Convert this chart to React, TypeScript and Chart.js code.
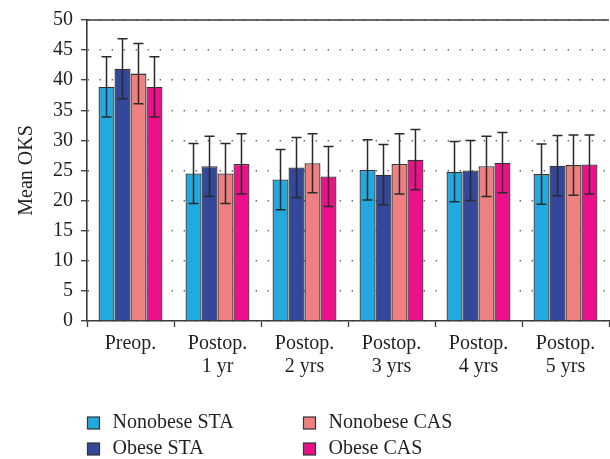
import React, { useEffect, useRef } from "react";
import { Chart, registerables } from "chart.js";

Chart.register(...registerables);

const categories: (string | string[])[] = [
  "Preop.",
  ["Postop.", "1 yr"],
  ["Postop.", "2 yrs"],
  ["Postop.", "3 yrs"],
  ["Postop.", "4 yrs"],
  ["Postop.", "5 yrs"],
];

const seriesNames = ["Nonobese STA", "Obese STA", "Nonobese CAS", "Obese CAS"];
const seriesColors = ["#22A9E0", "#33479B", "#F07F81", "#EC118B"];

const nonobeseSTA = [38.9, 24.5, 23.5, 25.1, 24.8, 24.4];
const obeseSTA = [41.9, 25.7, 25.5, 24.3, 25.0, 25.8];
const nonobeseCAS = [41.1, 24.5, 26.2, 26.1, 25.7, 25.9];
const obeseCAS = [38.9, 26.1, 24.0, 26.8, 26.3, 26.0];

const sdNonobeseSTA = [5.0, 5.0, 5.0, 5.0, 5.0, 5.0];
const sdObeseSTA = [5.0, 5.0, 5.0, 5.0, 5.0, 5.0];
const sdNonobeseCAS = [5.0, 5.0, 4.9, 5.0, 5.0, 5.0];
const sdObeseCAS = [5.0, 5.0, 5.0, 5.0, 5.0, 4.9];

const yTicks = [0, 5, 10, 15, 20, 25, 30, 35, 40, 45, 50];

const seriesValues = [nonobeseSTA, obeseSTA, nonobeseCAS, obeseCAS];
const seriesErrors = [sdNonobeseSTA, sdObeseSTA, sdNonobeseCAS, sdObeseCAS];

const FONT = "'Liberation Serif', 'DejaVu Serif', serif";
const TEXT = "#231f20";
const LINE = "#3a3a3a";

const errorBarPlugin = {
  id: "errorBars",
  afterDatasetsDraw(chart: any) {
    const ctx = chart.ctx;
    const yScale = chart.scales.y;
    ctx.save();
    ctx.strokeStyle = "#2a2a2a";
    ctx.lineWidth = 1.5;
    chart.data.datasets.forEach((ds: any, di: number) => {
      const meta = chart.getDatasetMeta(di);
      const errs = seriesErrors[di];
      meta.data.forEach((el: any, i: number) => {
        const v = ds.data[i];
        const e = errs[i];
        const x = el.x;
        const yt = yScale.getPixelForValue(v + e);
        const yb = yScale.getPixelForValue(v - e);
        const cap = 5;
        ctx.beginPath();
        ctx.moveTo(x, yt);
        ctx.lineTo(x, yb);
        ctx.moveTo(x - cap, yt);
        ctx.lineTo(x + cap, yt);
        ctx.moveTo(x - cap, yb);
        ctx.lineTo(x + cap, yb);
        ctx.stroke();
      });
    });
    ctx.restore();
  },
};

const framePlugin = {
  id: "frameTop",
  afterDraw(chart: any) {
    const { ctx, chartArea } = chart;
    ctx.save();
    ctx.strokeStyle = LINE;
    ctx.lineWidth = 1.6;
    ctx.beginPath();
    ctx.moveTo(chartArea.left, chartArea.top);
    ctx.lineTo(chartArea.right, chartArea.top);
    ctx.stroke();
    ctx.restore();
  },
};

const legendPlugin = {
  id: "customLegend",
  afterDraw(chart: any) {
    const { ctx, chartArea } = chart;
    const order = [
      [0, 0, 0],
      [1, 0, 1],
      [2, 1, 0],
      [3, 1, 1],
    ];
    ctx.save();
    ctx.font = `20px ${FONT}`;
    ctx.textBaseline = "middle";
    ctx.textAlign = "left";
    order.forEach(([si, col, row]) => {
      const x = chartArea.left + 0.5 + col * 216;
      const y = 423 + row * 26;
      ctx.fillStyle = seriesColors[si];
      ctx.fillRect(x, y - 6, 12, 12);
      ctx.strokeStyle = "#333";
      ctx.lineWidth = 1.2;
      ctx.strokeRect(x, y - 6, 12, 12);
      ctx.fillStyle = TEXT;
      ctx.fillText(seriesNames[si], x + 25, y);
    });
    ctx.restore();
  },
};

export default function App() {
  const ref = useRef<HTMLCanvasElement | null>(null);

  useEffect(() => {
    document.body.style.margin = "0";
    if (!ref.current) return;
    const chart = new Chart(ref.current, {
      type: "bar",
      data: {
        labels: categories,
        datasets: seriesValues.map((vals, i) => ({
          label: seriesNames[i],
          data: vals,
          backgroundColor: seriesColors[i],
          borderColor: "#333333",
          borderWidth: 1.3,
          categoryPercentage: 0.735,
          barPercentage: 1.0,
        })),
      },
      options: {
        animation: false,
        responsive: false,
        devicePixelRatio: 1,
        layout: { padding: { left: 0, top: 20, right: 1, bottom: 0 } },
        plugins: {
          legend: { display: false },
          tooltip: { enabled: false },
          title: { display: false },
        },
        scales: {
          x: {
            afterFit(scale: any) {
              scale.height = 138;
            },
            grid: {
              display: true,
              drawOnChartArea: false,
              drawTicks: true,
              tickLength: 6,
              tickColor: LINE,
              tickWidth: 1.3,
              offset: true,
            },
            border: { display: true, color: LINE, width: 1.6 },
            ticks: {
              autoSkip: false,
              maxRotation: 0,
              minRotation: 0,
              padding: 5,
              color: TEXT,
              font: { family: FONT, size: 20, lineHeight: 1.15 },
            },
          },
          y: {
            min: 0,
            max: 50,
            afterFit(scale: any) {
              scale.width = 87;
            },
            afterBuildTicks(scale: any) {
              scale.ticks = yTicks.map((v) => ({ value: v }));
            },
            grid: {
              display: true,
              drawOnChartArea: true,
              drawTicks: true,
              color: "#666666",
              lineWidth: 1.4,
              tickLength: 6,
              tickColor: LINE,
              tickWidth: 1.3,
              tickBorderDash: [],
            },
            border: { display: true, color: LINE, width: 1.6, dash: [1.4, 10.6] },
            ticks: {
              padding: 8,
              color: TEXT,
              font: { family: FONT, size: 20 },
            },
            title: {
              display: true,
              text: "Mean OKS",
              color: TEXT,
              font: { family: FONT, size: 20 },
              padding: { top: 15, bottom: 0 },
            },
          },
        },
      },
      plugins: [errorBarPlugin, framePlugin, legendPlugin],
    });
    return () => chart.destroy();
  }, []);

  return (
    <div style={{ position: "absolute", left: 0, top: 0, width: 610, height: 459 }}>
      <canvas ref={ref} width={610} height={459} style={{ width: 610, height: 459 }} />
    </div>
  );
}
